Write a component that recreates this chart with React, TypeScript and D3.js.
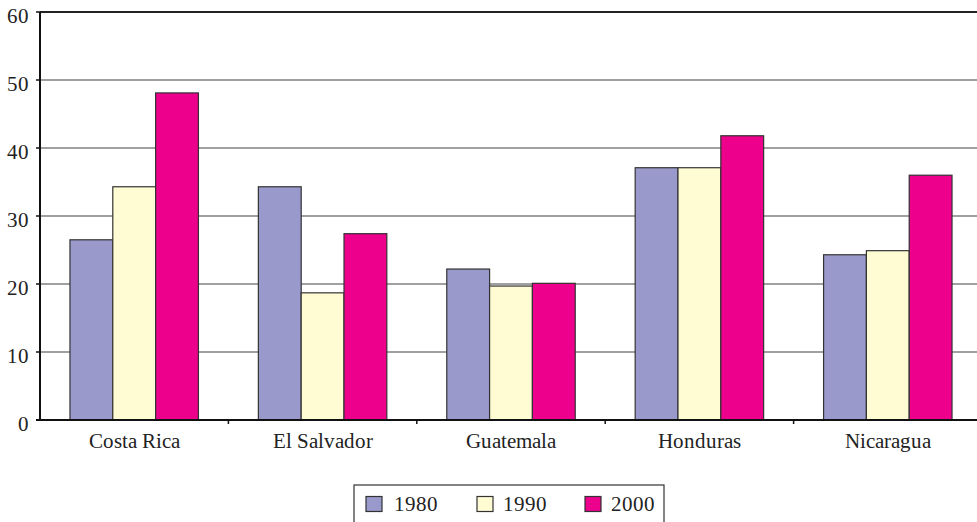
import React from "react";
import * as d3 from "d3";

const categories = ["Costa Rica", "El Salvador", "Guatemala", "Honduras", "Nicaragua"];
const seriesNames = ["1980", "1990", "2000"];
const values1980 = [26.5, 34.3, 22.2, 37.1, 24.3];
const values1990 = [34.3, 18.7, 19.7, 37.1, 24.9];
const values2000 = [48.1, 27.4, 20.1, 41.8, 36.0];
const yTicks = [0, 10, 20, 30, 40, 50, 60];
const colors = ["#9999CC", "#FFFCD4", "#EC008C"];

const FONT = "ChartSerif, 'Liberation Serif', Tinos, 'Times New Roman', serif";
const CSS = `@font-face { font-family: 'ChartSerif'; src: local('Liberation Serif'), local('LiberationSerif'), local('LiberationSerif-Regular'), local('Tinos'), local('Times New Roman'); }
svg text { font-family: ${FONT}; }`;

export default function App() {
  const W = 977, H = 522;
  const left = 40, right = 982, top = 12, bottom = 420;
  const series = [values1980, values1990, values2000];
  const x = d3.scaleBand<string>().domain(categories).range([left, right]);
  const xs = d3.scaleBand<string>().domain(seriesNames).range([0, x.bandwidth()]).paddingOuter(0.7).paddingInner(0);
  const y = d3.scaleLinear().domain([0, 60]).range([bottom, top]);
  const boundaries = categories.map((c) => (x(c) as number) + x.bandwidth());
  const legendX = 354, legendY = 485;
  const swatchX = [366, 477, 585];
  const textX = [394, 503, 611];
  return (
    <>
      <style>{CSS}</style>
      <svg width={W} height={H} style={{ position: "absolute", left: 0, top: 0 }}>
        {yTicks.filter((t) => t > 0).map((t) => (
          <line key={t} x1={left} x2={W} y1={y(t)} y2={y(t)} stroke={t === 60 ? "#222" : "#808080"} strokeWidth={t === 60 ? 2 : 1.5} />
        ))}
        {categories.map((c, i) =>
          seriesNames.map((s, j) => {
            const v = series[j][i];
            const bx = (x(c) as number) + (xs(s) as number);
            return (
              <rect key={c + s} x={bx} y={y(v)} width={xs.bandwidth()} height={y(0) - y(v)} fill={colors[j]} stroke="#333" strokeWidth={1.2} />
            );
          })
        )}
        <line x1={left} x2={left} y1={top} y2={bottom} stroke="#111" strokeWidth={2} />
        <line x1={left - 4} x2={W} y1={bottom} y2={bottom} stroke="#111" strokeWidth={2} />
        {yTicks.map((t) => (
          <g key={t}>
            <line x1={left - 4} x2={left} y1={y(t)} y2={y(t)} stroke="#111" strokeWidth={1.5} />
            <text x={29} y={y(t) + 11} textAnchor="end" fontSize={21} fill="#222">{String(t)}</text>
          </g>
        ))}
        {boundaries.map((b, i) => (
          <line key={i} x1={b} x2={b} y1={bottom} y2={bottom + 4} stroke="#111" strokeWidth={1.5} />
        ))}
        {categories.map((c) => (
          <text key={c} x={(x(c) as number) + x.bandwidth() / 2} y={448} textAnchor="middle" fontSize={21} fill="#222">{c}</text>
        ))}
        <rect x={legendX} y={legendY} width={310} height={50} fill="none" stroke="#333" strokeWidth={1.2} />
        {seriesNames.map((s, j) => (
          <g key={s}>
            <rect x={swatchX[j]} y={496.5} width={16} height={15} fill={colors[j]} stroke="#333" strokeWidth={1.2} />
            <text x={textX[j]} y={511} fontSize={21} fill="#222">{s}</text>
          </g>
        ))}
      </svg>
    </>
  );
}
